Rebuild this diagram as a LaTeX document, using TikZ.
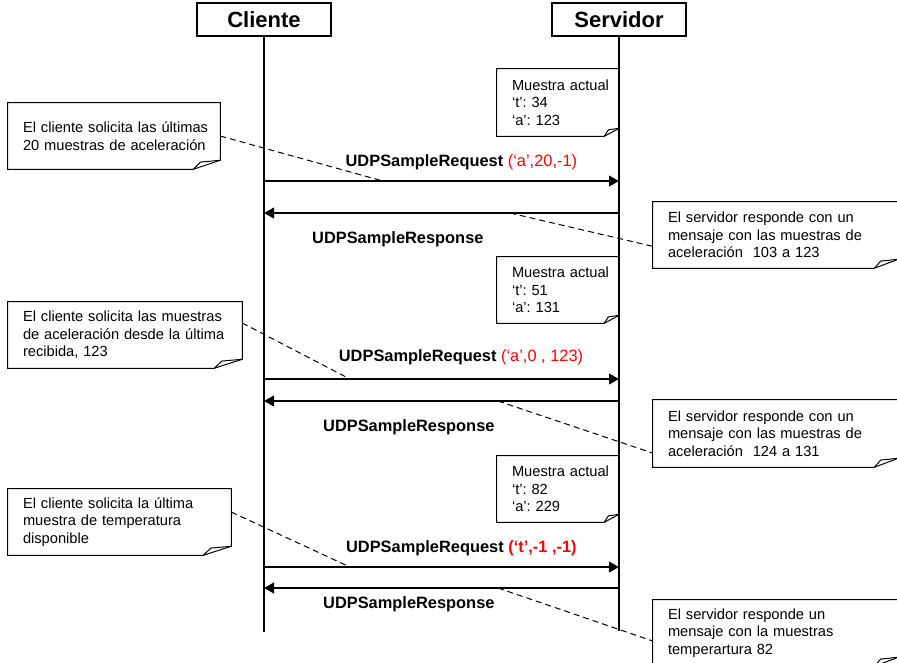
\documentclass[tikz,border=0pt]{standalone}
\usepackage{fontspec}
\setmainfont{Liberation Sans}
\usepackage{xcolor}
\usetikzlibrary{arrows.meta,calc}

\begin{document}
\begin{tikzpicture}[x=0.75pt, y=-0.75pt,
  actor/.style={draw, line width=1pt, minimum width=100.5pt, minimum height=24.75pt, inner sep=0pt, font=\fontsize{16.5}{19}\selectfont\bfseries},
  life/.style={line width=1pt},
  msg/.style={line width=1.5pt, -{Triangle[length=7.5pt, width=8pt]}},
  msglabel/.style={font=\fontsize{12.3}{14}\selectfont\bfseries},
  note/.style={align=left, inner xsep=0pt, inner ysep=0pt, execute at begin node={\leftskip=11.25pt\relax\frenchspacing}, font=\fontsize{11}{13.2}\selectfont},
  fold/.style={line width=0.75pt},
  link/.style={line width=0.75pt, dash pattern=on 4.5pt off 3pt}]
  \clip (0,0) rectangle (897,662);

  % lifelines
  \node[actor] (cli) at (264,19.5) {Cliente};
  \node[actor] (srv) at (619,19.5) {Servidor};
  \coordinate (cliend) at (264,632);
  \coordinate (srvend) at (619,631);
  \draw[life] (cli) -- (cliend);
  \draw[life] (srv) -- (srvend);

  \foreach \i/\y in {1/181, 2/213, 3/379, 4/401, 5/567, 6/588} {
    \coordinate (c\i) at (264,\y);
    \coordinate (s\i) at (619,\y);
  }

  % notes
  \node[note, text width=91.5pt, minimum height=50.25pt] (m1) at (558,102.5) {Muestra actual\\‘t’: 34\\‘a’: 123};
  \node[note, text width=91.5pt, minimum height=49.5pt] (m2) at (558,290) {Muestra actual\\‘t’: 51\\‘a’: 131};
  \node[note, text width=91.5pt, minimum height=49.5pt] (m3) at (558,489) {Muestra actual\\‘t’: 82\\‘a’: 229};
  \node[note, text width=159pt, minimum height=49.5pt] (l1) at (114,136) {El cliente solicita las últimas\\20 muestras de aceleración};
  \node[note, text width=175.5pt, minimum height=49.5pt] (l2) at (125,335) {El cliente solicita las muestras\\de aceleración desde la última\\recibida, 123};
  \node[note, text width=167.25pt, minimum height=49.5pt] (l3) at (119.5,522) {El cliente solicita la última\\muestra de temperatura\\disponible};
  \node[note, text width=183.75pt, minimum height=49.5pt] (r1) at (775.5,235) {El servidor responde con un\\mensaje con las muestras de\\aceleración\ \ 103 a 123};
  \node[note, text width=183.75pt, minimum height=50.25pt] (r2) at (775.5,433.5) {El servidor responde con un\\mensaje con las muestras de\\aceleración\ \ 124 a 131};
  \node[note, text width=183.75pt, minimum height=49.5pt] (r3) at (775.5,633) {El servidor responde un\\mensaje con la muestras\\temperartura 82};

  \foreach \n/\fw/\fh in {m1/15/8, m2/15/8, m3/15/8, l1/27/9, l2/28/9, l3/28/9, r1/24/9, r2/24/9, r3/24/9} {
    \draw[fold] (\n.north west) -- (\n.north east) -- ($(\n.south east)+(0,-\fh)$)
      -- ($(\n.south east)+(-\fw,0)$) -- (\n.south west) -- cycle;
    \draw[fold] ($(\n.south east)+(-\fw,0)$) -- ($(\n.south east)+(-0.73*\fw,-0.8*\fh)$)
      -- ($(\n.south east)+(0,-\fh)$);
  }

  % messages
  \draw[msg] (c1) -- coordinate[pos=0.335] (p1)
    node[msglabel, above=4pt, pos=0.556] {UDPSampleRequest \textcolor{red}{\mdseries(‘a’,20,-1)}} (s1);
  \draw[msg] (s2) -- coordinate[pos=0.307] (p2)
    node[msglabel, below=9.6pt, pos=0.623] {UDPSampleResponse} (c2);
  \draw[msg] (c3) -- coordinate[pos=0.242] (p3)
    node[msglabel, above=6.5pt, pos=0.555] {UDPSampleRequest \textcolor{red}{\mdseries(‘a’,0 , 123)}} (s3);
  \draw[msg] (s4) -- coordinate[pos=0.341] (p4)
    node[msglabel, below=9.6pt, pos=0.592] {UDPSampleResponse} (c4);
  \draw[msg] (c5) -- coordinate[pos=0.242] (p5)
    node[msglabel, above=4.3pt, pos=0.556] {UDPSampleRequest \textcolor{red}{(‘t’,-1 ,-1)}} (s5);
  \draw[msg] (s6) -- coordinate[pos=0.341] (p6)
    node[msglabel, below=2.1pt, pos=0.592] {UDPSampleResponse} (c6);

  % links from notes
  \draw[link] (l1.east) -- (p1);
  \draw[link] (p2) -- ($(r1.north west)!0.67!(r1.south west)$);
  \draw[link] ($(l2.north east)!0.32!(l2.south east)$) -- (p3);
  \draw[link] (p4) -- ($(r2.north west)!0.79!(r2.south west)$);
  \draw[link] ($(l3.north east)!0.35!(l3.south east)$) -- (p5);
  \draw[link] (p6) -- ($(r3.north west)!0.62!(r3.south west)$);
\end{tikzpicture}
\end{document}
